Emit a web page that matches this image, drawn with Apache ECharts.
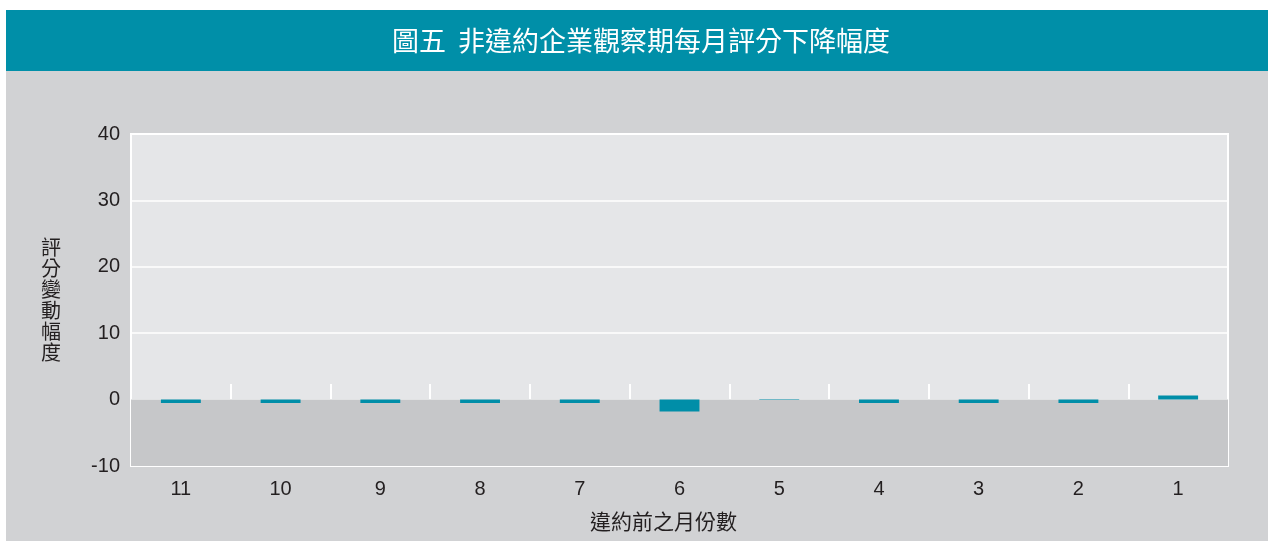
<!DOCTYPE html>
<html><head><meta charset="utf-8">
<script src="https://cdn.jsdelivr.net/npm/echarts@6/dist/echarts.min.js"></script>
<style>html,body{margin:0;padding:0;background:#fff}#c{width:1268px;height:541px}</style>
</head><body><div id="c"></div>
<script>
const titleText = '圖五  非違約企業觀察期每月評分下降幅度';
const categories = ['11','10','9','8','7','6','5','4','3','2','1'];
const values = [-0.5,-0.5,-0.5,-0.5,-0.5,-1.8,0.1,-0.5,-0.5,-0.5,0.6];
const yName = '評分變動幅度';
const xName = '違約前之月份數';

const chart = echarts.init(document.getElementById('c'));
const font = "'Liberation Sans', Arial, sans-serif";
const cjk = "'Noto Sans CJK TC', 'Noto Sans CJK SC', sans-serif";
chart.setOption({
  backgroundColor: '#ffffff',
  animation: false,
  graphic: [
    {type:'rect', z:-10, shape:{x:6,y:71,width:1262,height:470}, style:{fill:'#d1d2d4'}},
    {type:'rect', z:-10, shape:{x:6,y:10,width:1262,height:61}, style:{fill:'#008fa8'}},
    {type:'text', x:641, y:41, style:{text:titleText, fill:'#ffffff', font:"400 27px " + cjk, align:'center', verticalAlign:'middle'}}
  ],
  grid: {left:131, right:40, top:134, bottom:75, outerBoundsMode:'none', show:true, backgroundColor:'#e5e6e8', borderColor:'#ffffff', borderWidth:2},
  xAxis: [{
    type:'category', data:categories, position:'bottom',
    axisLine:{onZero:false, show:false},
    axisTick:{show:false},
    axisLabel:{margin:13, color:'#231f20', fontSize:20, fontFamily:font},
    name:xName, nameLocation:'middle', nameGap:45,
    nameTextStyle:{color:'#231f20', fontSize:21, fontFamily:cjk, padding:[0,32,0,0]}
  },{
    type:'category', data:categories, position:'bottom', offset:-66,
    axisLine:{onZero:false, show:true, lineStyle:{color:'#ffffff', width:2}},
    axisTick:{show:true, inside:true, length:16, lineStyle:{color:'#ffffff', width:2}},
    axisLabel:{show:false}
  }],
  yAxis: {
    type:'value', min:-10, max:40, interval:10,
    axisLine:{show:false}, axisTick:{show:false},
    axisLabel:{margin:11, color:'#231f20', fontSize:20, fontFamily:font},
    splitLine:{lineStyle:{color:'#ffffff', width:1.5}},
    name: yName.split('').join('\n'), nameLocation:'middle', nameGap:70, nameRotate:0,
    nameTextStyle:{color:'#231f20', fontSize:20, fontFamily:cjk, lineHeight:21}
  },
  series: [{
    type:'bar', data:values, barWidth:'40%', xAxisIndex:0,
    itemStyle:{color:'#008ea8'}, z:5,
    markArea:{silent:true, itemStyle:{color:'#c6c7c9'}, data:[[{yAxis:-10},{yAxis:0}]]}
  }]
});
</script></body></html>
